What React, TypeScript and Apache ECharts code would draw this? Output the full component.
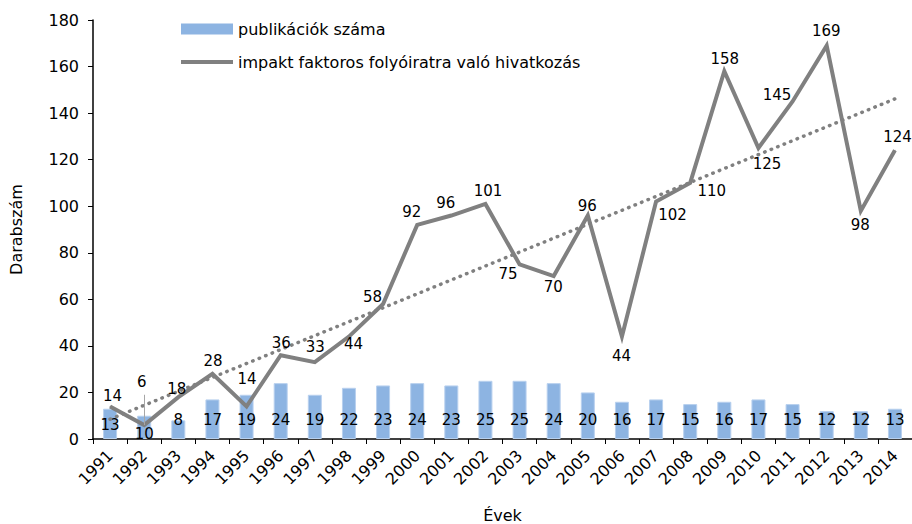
import React, { useEffect, useRef } from "react";
import * as echarts from "echarts";

const years = ["1991","1992","1993","1994","1995","1996","1997","1998","1999","2000","2001","2002","2003","2004","2005","2006","2007","2008","2009","2010","2011","2012","2013","2014"];
const publications = [13,10,8,17,19,24,19,22,23,24,23,25,25,24,20,16,17,15,16,17,15,12,12,13];
const citations = [14,6,18,28,14,36,33,44,58,92,96,101,75,70,96,44,102,110,158,125,145,169,98,124];
// linear trend of the citations (start / end values)
const trendEnds = [8.5, 146.1];
const yTicks = { min: 0, max: 180, interval: 20 };

const barName = "publikációk száma";
const lineName = "impakt faktoros folyóiratra való hivatkozás";

// label placement (px offsets from each point)
const citationLabelOffsets: number[][] = [
  [3,-10],[-2,-43],[-1,-8],[1,-12],[1,-27],[1,-12],[1,-15],[5,8],[-10,-6],[-5,-12],[-5,-12],[3,-12],
  [-11,10],[0,11],[0,-9],[0,20],[17,14],[22,9],[1,-12],[9,16],[-15,-6],[0,-14],[0,15],[3,-13]
];
const pubLabelOffsets: number[][] = years.map((_, i) => (i === 0 ? [0, 5] : i === 1 ? [0, 14] : [0, 0]));
const leaderTop = 19;

const FONT = "DejaVu Sans";

export default function App() {
  const ref = useRef<HTMLDivElement>(null);
  useEffect(() => {
    if (!ref.current) return;
    const chart = echarts.init(ref.current, null, { renderer: "svg" });
    const n = years.length;
    chart.setOption({
      animation: false,
      backgroundColor: "#ffffff",
      textStyle: { fontFamily: FONT, color: "#000" },
      grid: { left: 93, right: 0, top: 20, bottom: 85, containLabel: false, outerBoundsMode: "none" },
      legend: {
        orient: "vertical",
        left: 176,
        top: 16,
        itemWidth: 52,
        itemHeight: 11,
        itemGap: 17,
        textStyle: { fontFamily: FONT, fontSize: 16, color: "#000" },
        data: [
          { name: barName, icon: "rect", itemStyle: { color: "#8db4e2", borderWidth: 0 } },
          { name: lineName, icon: "path://M0,0H52V4H0Z", itemStyle: { color: "#808080", borderWidth: 0 } },
        ],
      },
      xAxis: {
        type: "category",
        data: years,
        boundaryGap: true,
        name: "Évek",
        nameLocation: "middle",
        nameGap: 68,
        nameTextStyle: { fontFamily: FONT, fontSize: 16, color: "#000" },
        axisLine: { lineStyle: { color: "#000", width: 1.5 } },
        axisTick: { show: true, length: 5, lineStyle: { color: "#000" } },
        axisLabel: { rotate: 45, margin: 14, fontSize: 16, color: "#000", fontFamily: FONT, interval: 0 },
        splitLine: { show: false },
      },
      yAxis: {
        type: "value",
        min: yTicks.min,
        max: yTicks.max,
        interval: yTicks.interval,
        name: "Darabszám",
        nameLocation: "middle",
        nameGap: 69,
        nameTextStyle: { fontFamily: FONT, fontSize: 16, color: "#000" },
        axisLine: { show: true, lineStyle: { color: "#000", width: 1.5 } },
        axisTick: { show: true, length: 5, lineStyle: { color: "#000" } },
        axisLabel: { margin: 14, fontSize: 16, color: "#000", fontFamily: FONT },
        splitLine: { show: false },
      },
      series: [
        {
          name: barName,
          type: "bar",
          barWidth: 14,
          itemStyle: { color: "#8db4e2", borderColor: "#b8d0ee", borderWidth: 1 },
          label: {
            show: true,
            position: "insideBottom",
            distance: 12,
            fontSize: 15,
            color: "#000",
            fontFamily: FONT,
          },
          data: publications.map((v, i) => ({ value: v, label: { offset: pubLabelOffsets[i] } })),
          z: 1,
        },
        {
          name: "trend",
          type: "line",
          symbol: "none",
          connectNulls: true,
          lineStyle: { color: "#808080", width: 3.5, type: [0.5, 6.5], cap: "round" },
          data: years.map((_, i) => (i === 0 ? trendEnds[0] : i === n - 1 ? trendEnds[1] : null)),
          z: 3,
          silent: true,
        },
        {
          name: lineName,
          type: "line",
          symbol: "circle",
          symbolSize: 1,
          showSymbol: true,
          itemStyle: { color: "#808080" },
          lineStyle: { color: "#808080", width: 4, join: "miter" },
          label: {
            show: true,
            align: "center",
            verticalAlign: "middle",
            fontSize: 15,
            color: "#000",
            fontFamily: FONT,
          },
          data: citations.map((v, i) => ({
            value: v,
            label: { position: citationLabelOffsets[i] },
          })),
          markLine: {
            silent: true,
            symbol: "none",
            label: { show: false },
            lineStyle: { color: "#a6a6a6", width: 1, type: "solid" },
            data: [[{ coord: [1, leaderTop] }, { coord: [1, citations[1]] }]],
          },
          z: 4,
        },
      ],
    });
    return () => chart.dispose();
  }, []);
  return (
    <div
      ref={ref}
      style={{ position: "fixed", left: 0, top: 0, width: 912, height: 524, background: "#fff" }}
    />
  );
}
